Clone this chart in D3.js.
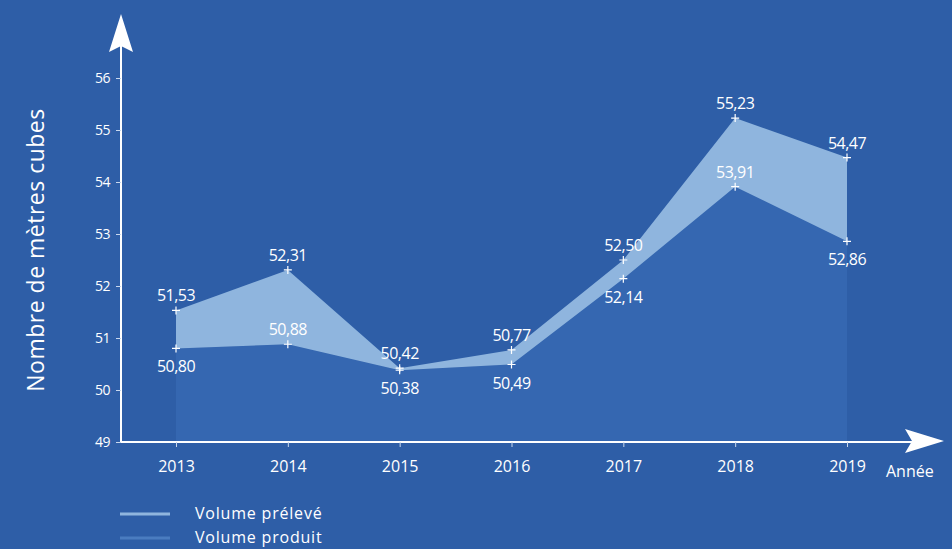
<!DOCTYPE html>
<html>
<head>
<meta charset="utf-8">
<script src="https://cdn.jsdelivr.net/npm/d3@7"></script>
<style>
  body { margin: 0; background: #2e5ea7; }
  text { font-family: "Open Sans", "Noto Sans", sans-serif; fill: #fff; }
</style>
</head>
<body>
<script>
const years = [2013, 2014, 2015, 2016, 2017, 2018, 2019];
const preleve = [51.53, 52.31, 50.42, 50.77, 52.50, 55.23, 54.47];
const produit = [50.80, 50.88, 50.38, 50.49, 52.14, 53.91, 52.86];
const yTicks = [49, 50, 51, 52, 53, 54, 55, 56];
// label placement: 1 = above, -1 = below
const prelevePos = [1, 1, 1, 1, 1, 1, 1];
const produitPos = [-1, 1, -1, -1, -1, 1, -1];

const width = 952, height = 549;
const svg = d3.select("body").append("svg")
    .attr("width", width).attr("height", height);

svg.append("rect").attr("width", width).attr("height", height).attr("fill", "#2e5ea7");

const x = d3.scalePoint().domain(years).range([176, 847]);
const y = d3.scaleLinear().domain([49, 56]).range([442, 78]);

const data = years.map((yr, i) => ({ yr, p: preleve[i], q: produit[i] }));

// area under produit
svg.append("path")
    .datum(data)
    .attr("fill", "#3567b1")
    .attr("d", d3.area().x(d => x(d.yr)).y0(y(49)).y1(d => y(d.q)));

// band between produit and preleve
svg.append("path")
    .datum(data)
    .attr("fill", "#8fb5de")
    .attr("d", d3.area().x(d => x(d.yr)).y0(d => y(d.q)).y1(d => y(d.p)));

// axes
const ax = svg.append("g").attr("stroke", "#fff").attr("fill", "none");
ax.append("line").attr("x1", 121).attr("x2", 121).attr("y1", 442).attr("y2", 40).attr("stroke-width", 2);
ax.append("line").attr("x1", 121).attr("x2", 915).attr("y1", 442).attr("y2", 442).attr("stroke-width", 2);
svg.append("path").attr("fill", "#fff")
    .attr("d", "M121,14 L133,52 L121,46 L109,52 Z");
svg.append("path").attr("fill", "#fff")
    .attr("d", "M944,441 L905,429 L912,441 L905,453 Z");

const yAxis = svg.append("g").attr("transform", "translate(121,0)")
    .call(d3.axisLeft(y).tickValues(yTicks).tickSize(5).tickPadding(6).tickFormat(d3.format("d")));
yAxis.select(".domain").remove();
yAxis.selectAll("line").attr("stroke", "#c9d8ee");
yAxis.selectAll("text").style("font-size", "14px").style("letter-spacing", "-0.5px").attr("fill", "#fff");

const xAxis = svg.append("g").attr("transform", "translate(0,442)")
    .call(d3.axisBottom(x).tickSize(5).tickPadding(14).tickFormat(d3.format("d")));
xAxis.select(".domain").remove();
xAxis.selectAll("line").attr("stroke", "#c9d8ee");
xAxis.selectAll("text").style("font-size", "16px").attr("fill", "#fff");

svg.append("text").attr("x", 886).attr("y", 477).style("font-size", "16px").text("Année");

svg.append("text")
    .attr("transform", "translate(44,250) rotate(-90)")
    .attr("text-anchor", "middle")
    .style("font-size", "23px")
    .style("letter-spacing", "0.5px")
    .text("Nombre de mètres cubes");

// point markers
const fmt = v => v.toFixed(2).replace(".", ",");
function marks(vals, pos) {
    const g = svg.append("g");
    vals.forEach((v, i) => {
        const cx = x(years[i]), cy = y(v);
        g.append("path").attr("stroke", "#fff").attr("stroke-width", 1.2)
            .attr("d", `M${cx - 4},${cy} H${cx + 4} M${cx},${cy - 4} V${cy + 4}`);
        g.append("text").attr("x", cx).attr("y", pos[i] > 0 ? cy - 9 : cy + 24)
            .attr("text-anchor", "middle").style("font-size", "16px")
            .style("letter-spacing", "-0.5px")
            .text(fmt(v));
    });
}
marks(preleve, prelevePos);
marks(produit, produitPos);

// legend
const leg = svg.append("g");
leg.append("line").attr("x1", 120).attr("x2", 170).attr("y1", 514).attr("y2", 514)
    .attr("stroke", "#8fb5de").attr("stroke-width", 3);
leg.append("text").attr("x", 195).attr("y", 519).style("font-size", "16px").style("letter-spacing", "0.8px").text("Volume prélevé");
leg.append("line").attr("x1", 120).attr("x2", 170).attr("y1", 538).attr("y2", 538)
    .attr("stroke", "#4a7cc0").attr("stroke-width", 3);
leg.append("text").attr("x", 195).attr("y", 543).style("font-size", "16px").style("letter-spacing", "0.8px").text("Volume produit");
</script>
</body>
</html>
